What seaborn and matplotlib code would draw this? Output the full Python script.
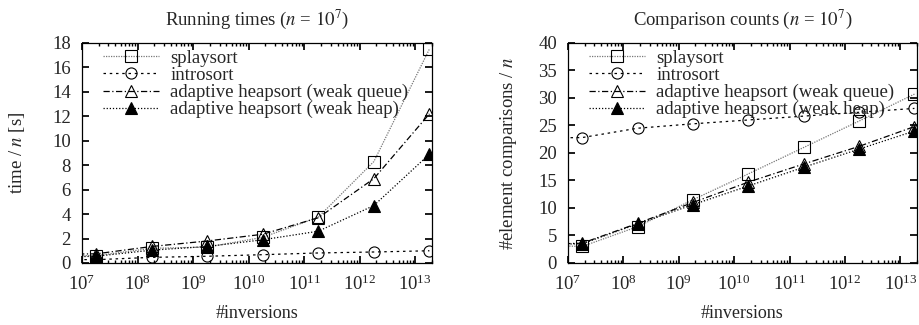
import numpy as np
import pandas as pd
import matplotlib
matplotlib.use('Agg')
import matplotlib.pyplot as plt
import matplotlib.ticker as mticker
import seaborn as sns

# number of inversions (first value lies left of the visible range)
inversions = [1.8e6, 1.8e7, 1.8e8, 1.8e9, 1.8e10, 1.8e11, 1.8e12, 1.8e13]

# running times / n [s]
time_splay = [0.6, 0.6, 1.2, 1.3, 2.1, 3.75, 8.3, 17.5]
time_intro = [0.3, 0.27, 0.46, 0.55, 0.68, 0.82, 0.9, 1.0]
time_weakqueue = [0.7, 0.75, 1.35, 1.8, 2.35, 3.7, 6.9, 12.2]
time_weakheap = [0.45, 0.55, 1.05, 1.35, 1.9, 2.6, 4.7, 8.9]

# element comparisons / n
cmp_splay = [3.3, 3.0, 6.6, 11.5, 16.2, 21.0, 25.8, 30.7]
cmp_intro = [22.7, 22.8, 24.5, 25.3, 26.0, 26.7, 27.4, 28.1]
cmp_weakqueue = [3.3, 3.6, 7.2, 11.0, 14.7, 18.0, 21.2, 24.8]
cmp_weakheap = [3.3, 3.5, 7.1, 10.6, 14.0, 17.4, 20.7, 24.0]

names = ['splaysort', 'introsort', 'adaptive heapsort (weak queue)',
         'adaptive heapsort (weak heap)']

sns.set_theme(style='ticks')
plt.rcParams['font.family'] = ['Liberation Serif', 'DejaVu Serif']
plt.rcParams['mathtext.fontset'] = 'stix'
plt.rcParams['font.size'] = 11

# estilo de cada serie: (color linea, linestyle, marker, relleno)
styles = [
    ('#777777', (0, (1, 1)), 's', 'none'),
    ('black', (0, (2, 3)), 'o', 'none'),
    ('black', (0, (5, 2, 1, 2)), '^', 'none'),
    ('black', (0, (1, 1.5)), '^', 'black'),
]

fig = plt.figure(figsize=(9.2, 3.25), dpi=100)
ax1 = fig.add_axes([0.0891, 0.1908, 0.3804, 0.677])
ax2 = fig.add_axes([0.6174, 0.1908, 0.3793, 0.677])


def draw(ax, series, ymax, ystep, ylabel, title, ylpad):
    for vals, name, (col, ls, mk, fc) in zip(series, names, styles):
        sns.lineplot(x=inversions, y=vals, ax=ax, label=name, color=col,
                     linestyle=ls, linewidth=0.9, marker=mk, markersize=8,
                     markerfacecolor=fc, markeredgecolor='black',
                     markeredgewidth=0.8)
    ax.set_xscale('log')
    ax.set_xlim(1e7, 2e13)
    ax.set_ylim(0, ymax)
    ax.set_yticks(np.arange(0, ymax + 1, ystep))
    ax.xaxis.set_major_locator(mticker.LogLocator(base=10, numticks=20))
    ax.xaxis.set_minor_locator(mticker.LogLocator(base=10, subs=np.arange(2, 10), numticks=20))
    ax.xaxis.set_minor_formatter(mticker.NullFormatter())
    ax.tick_params(which='both', direction='in', top=True, right=True,
                   labelsize=13.5, color='black')
    ax.tick_params(axis='x', which='major', pad=8)
    ax.tick_params(axis='y', which='major', pad=8)
    ax.tick_params(which='major', length=5)
    ax.tick_params(which='minor', length=2.5)
    for sp in ax.spines.values():
        sp.set_visible(True)
        sp.set_color('black')
        sp.set_linewidth(0.9)
    ax.set_xlabel('#inversions', fontsize=13, labelpad=8)
    ax.set_ylabel(ylabel, fontsize=13.5, labelpad=ylpad)
    ax.set_title(title, fontsize=13.5, pad=13)
    ax.legend(loc='upper left', frameon=False, fontsize=13.5, handlelength=3.0,
              labelspacing=0.0, borderaxespad=0, handletextpad=0.6,
              borderpad=0, bbox_to_anchor=(0.06, 0.97))


draw(ax1, [time_splay, time_intro, time_weakqueue, time_weakheap], 18, 2,
     'time / $n$ [s]', 'Running times ($n$ = $10^7$)', 18)
draw(ax2, [cmp_splay, cmp_intro, cmp_weakqueue, cmp_weakheap], 40, 5,
     '#element comparisons / $n$', 'Comparison counts ($n$ = $10^7$)', 14)

fig.savefig('out.png', dpi=100)
